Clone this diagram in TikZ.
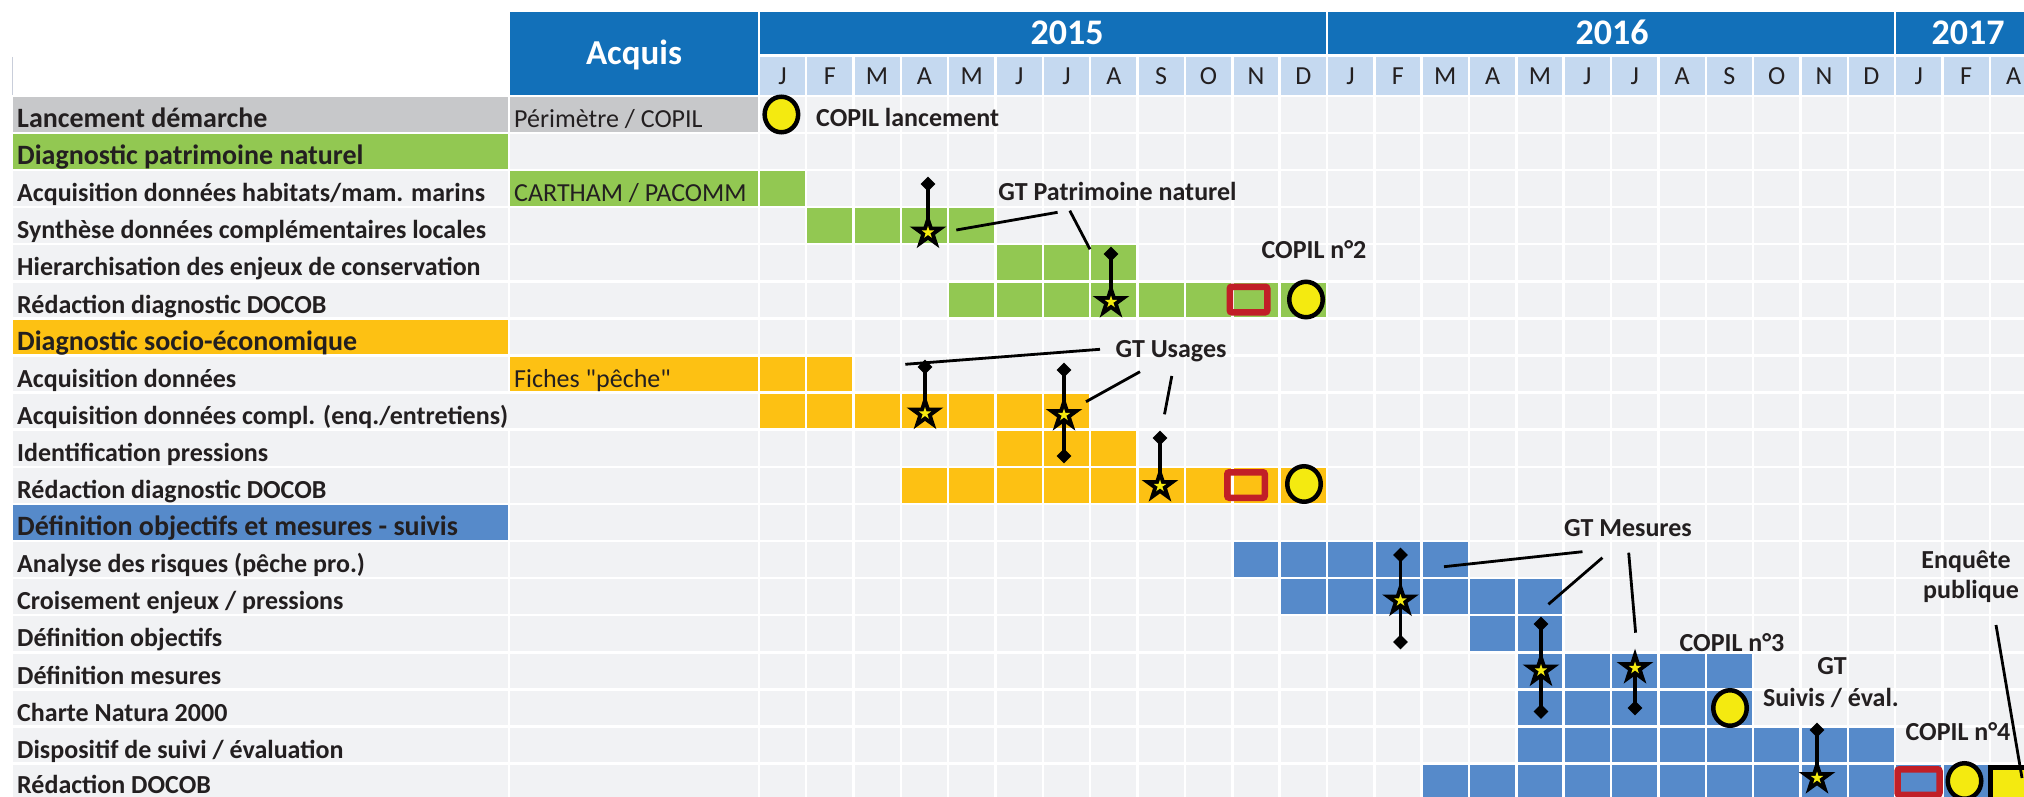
\documentclass[tikz,border=0pt]{standalone}
\usepackage{fontspec}
\setmainfont{Carlito}[Ligatures=TeXOff]
\usetikzlibrary{shapes.geometric}
\definecolor{hdrblue}{HTML}{1270B9}
\definecolor{monthblue}{HTML}{C5D9F0}
\definecolor{cellgrey}{HTML}{F1F2F4}
\definecolor{headgrey}{HTML}{C7C8CA}
\definecolor{greenc}{HTML}{92C852}
\definecolor{orangec}{HTML}{FDC113}
\definecolor{bluec}{HTML}{568ACA}
\definecolor{yellowc}{HTML}{F4EA10}
\definecolor{redc}{HTML}{C11F27}
\definecolor{ink}{HTML}{231F20}
\definecolor{edgeline}{HTML}{C9CEDA}
\newcommand\ganttbar[4]{\foreach \k in {#2,...,#3}{\fill[#4] ({760+47.35*\k},{97+37.1*#1}) rectangle ++(44.85,34.6);}}
\tikzset{
 lbl/.style={anchor=base west, inner sep=0pt, text=ink, font=\bfseries\fontsize{26}{30}\selectfont},
 cat/.style={lbl, font=\bfseries\fontsize{28}{32}\selectfont},
 acq/.style={anchor=base west, inner sep=0pt, text=ink, font=\fontsize{26}{30}\selectfont},
 mon/.style={anchor=base, inner sep=0pt, text=ink, font=\fontsize{26}{30}\selectfont},
 yr/.style={anchor=base, inner sep=0pt, text=white, font=\bfseries\fontsize{36}{40}\selectfont},
 ann/.style={anchor=base, inner sep=0pt, text=ink, font=\bfseries\fontsize{26}{30}\selectfont},
 gtstar/.style={star, star points=5, star point ratio=2.618, fill=black, inner sep=0pt, minimum size=38.6},
 ystar/.style={star, star points=5, star point ratio=2.618, fill=yellowc, inner sep=0pt, minimum size=13},
 dmd/.style={diamond, fill=black, inner sep=0pt, minimum width=15, minimum height=15},
 stem/.style={draw=black, line width=3.3},
 leader/.style={draw=black, line width=2.8},
 copil/.style={ellipse, draw=black, fill=yellowc, line width=4.5, inner sep=0pt, minimum width=33.5, minimum height=35.5},
 redbox/.style={rectangle, draw=redc, line width=6.5, rounded corners=2, inner sep=0pt, minimum width=37.5, minimum height=25.5},
}
\begin{document}
\begin{tikzpicture}[x=1pt,y=-1pt]
\useasboundingbox (0,0) rectangle (2024,797);
\clip (0,0) rectangle (2024,797);
\fill[white] (0,0) rectangle (2024,797);
% header
\draw[edgeline, line width=1] (12,57) -- (12,95);
\fill[hdrblue] (510,12) rectangle (757.5,95);
\node[yr, font=\bfseries\fontsize{35}{40}\selectfont] (hacq) at (634,65) {Acquis};
\fill[hdrblue] (760,12) rectangle ({760+12*47.35-2.5},54.5);
\fill[hdrblue] ({760+12*47.35},12) rectangle ({760+24*47.35-2.5},54.5);
\fill[hdrblue] ({760+24*47.35},12) rectangle (2030,54.5);
\node[yr] (y15) at (1067,45) {2015};
\node[yr] (y16) at (1612,45) {2016};
\node[yr] (y17) at (1968,45) {2017};
\foreach \m [count=\k from 0] in {J,F,M,A,M,J,J,A,S,O,N,D,J,F,M,A,M,J,J,A,S,O,N,D,J,F,A}{
  \fill[monthblue] ({760+47.35*\k},57) rectangle ++(44.85,38);
  \node[mon] (m\k) at ({760+47.35*\k+22.4},85) {\m};
}
% grid background
\foreach \r in {0,...,18}{
  \foreach \k in {0,...,26}{\fill[cellgrey] ({760+47.35*\k},{97+37.1*\r}) rectangle ++(44.85,34.6);}
  \fill[cellgrey] (13,{97+37.1*\r}) rectangle (507.5,{97+37.1*\r+34.6});
  \fill[cellgrey] (510,{97+37.1*\r}) rectangle (757.5,{97+37.1*\r+34.6});
}
\fill[cellgrey] (13,{97+37.1*8}) rectangle (757.5,{97+37.1*8+34.6});
% category cells
\fill[headgrey] (13,97) rectangle (507.5,131.6);
\fill[headgrey] (510,97) rectangle (757.5,131.6);
\fill[greenc] (13,{97+37.1}) rectangle (507.5,{97+37.1+34.6});
\fill[greenc] (510,{97+37.1*2}) rectangle (757.5,{97+37.1*2+34.6});
\fill[orangec] (13,{97+37.1*6}) rectangle (507.5,{97+37.1*6+34.6});
\fill[orangec] (510,{97+37.1*7}) rectangle (757.5,{97+37.1*7+34.6});
\fill[bluec] (13,{97+37.1*11}) rectangle (507.5,{97+37.1*11+34.6});
% bars
\ganttbar{2}{0}{0}{greenc}
\ganttbar{3}{1}{4}{greenc}
\ganttbar{4}{5}{7}{greenc}
\ganttbar{5}{4}{11}{greenc}
\ganttbar{7}{0}{1}{orangec}
\ganttbar{8}{0}{6}{orangec}
\ganttbar{9}{5}{7}{orangec}
\ganttbar{10}{3}{11}{orangec}
\ganttbar{12}{10}{14}{bluec}
\ganttbar{13}{11}{16}{bluec}
\ganttbar{14}{15}{16}{bluec}
\ganttbar{15}{16}{20}{bluec}
\ganttbar{16}{16}{20}{bluec}
\ganttbar{17}{16}{23}{bluec}
\ganttbar{18}{14}{25}{bluec}
% row labels
\node[cat] (l0) at (17,{97+37.1*0+30.5}) {Lancement démarche};
\node[cat] (l1) at (17,{97+37.1*1+30.5}) {Diagnostic patrimoine naturel};
\node[lbl] (l2) at (17,{97+37.1*2+30.5}) {Acquisition données habitats/mam. marins};
\node[lbl] (l3) at (17,{97+37.1*3+30.5}) {Synthèse données complémentaires locales};
\node[lbl] (l4) at (17,{97+37.1*4+30.5}) {Hierarchisation des enjeux de conservation};
\node[lbl] (l5) at (17,{97+37.1*5+30.5}) {Rédaction diagnostic DOCOB};
\node[cat] (l6) at (17,{97+37.1*6+30.5}) {Diagnostic socio-économique};
\node[lbl] (l7) at (17,{97+37.1*7+30.5}) {Acquisition données};
\node[lbl] (l8) at (17,{97+37.1*8+30.5}) {Acquisition données compl. (enq./entretiens)};
\node[lbl] (l9) at (17,{97+37.1*9+30.5}) {Identification pressions};
\node[lbl] (l10) at (17,{97+37.1*10+30.5}) {Rédaction diagnostic DOCOB};
\node[cat] (l11) at (17,{97+37.1*11+30.5}) {Définition objectifs et mesures - suivis};
\node[lbl] (l12) at (17,{97+37.1*12+30.5}) {Analyse des risques (pêche pro.)};
\node[lbl] (l13) at (17,{97+37.1*13+30.5}) {Croisement enjeux / pressions};
\node[lbl] (l14) at (17,{97+37.1*14+30.5}) {Définition objectifs};
\node[lbl] (l15) at (17,{97+37.1*15+30.5}) {Définition mesures};
\node[lbl] (l16) at (17,{97+37.1*16+30.5}) {Charte Natura 2000};
\node[lbl] (l17) at (17,{97+37.1*17+30.5}) {Dispositif de suivi / évaluation};
\node[lbl] (l18) at (17,{97+37.1*18+28.5}) {Rédaction DOCOB};
\node[acq] (a0) at (514,{97+30.5}) {Périmètre / COPIL};
\node[acq] (a2) at (514,{97+37.1*2+30.5}) {CARTHAM / PACOMM};
\node[acq] (a7) at (514,{97+37.1*7+30.5}) {Fiches "pêche"};
% COPIL markers
\node[copil] (c0) at (781.4,114.5) {};
\node[ann, anchor=base west] (tc0) at (816,126.7) {COPIL lancement};
\node[redbox, minimum width=37.5] (rb5) at (1248.5,299.5) {};
\node[copil] (c5) at (1306,299.5) {};
\node[redbox, minimum width=37.5] (rb10) at (1246,485) {};
\node[copil] (c10) at (1304,484) {};
\node[copil] (c16) at (1730,708) {};
\node[redbox, minimum width=42] (rb18) at (1918.5,782) {};
\node[copil] (c18) at (1964.5,781) {};
\draw[black, fill=yellowc, line width=5] (1990.5,767.5) rectangle (2040,815);
\node[ann] (tc2) at (1314,258) {COPIL n°2};
\node[ann] (tc3) at (1732,651) {COPIL n°3};
\node[ann] (tc4) at (1958,740.5) {COPIL n°4};
% GT markers
\node[dmd] (d1) at (928,184) {};
\node[gtstar] (s1) at (928,232.5) {};
\draw[stem] (d1.center) -- (s1.center);
\node[dmd] (d2) at (1111,254) {};
\node[gtstar] (s2) at (1111,302) {};
\draw[stem] (d2.center) -- (s2.center);
\node[dmd] (d3) at (925,367) {};
\node[gtstar] (s3) at (925,413.5) {};
\draw[stem] (d3.center) -- (s3.center);
\node[dmd] (d4) at (1064,370) {};
\node[dmd] (d4b) at (1064,456) {};
\node[gtstar] (s4) at (1064,415) {};
\draw[stem] (d4.center) -- (d4b.center);
\node[dmd] (d5) at (1160,438) {};
\node[gtstar] (s5) at (1160,486) {};
\draw[stem] (d5.center) -- (s5.center);
\node[dmd] (d6) at (1400.5,555) {};
\node[dmd] (d6b) at (1400.5,642) {};
\node[gtstar] (s6) at (1400.5,600.5) {};
\draw[stem] (d6.center) -- (d6b.center);
\node[dmd] (d7) at (1541,624) {};
\node[dmd] (d7b) at (1541,711.5) {};
\node[gtstar] (s7) at (1541,670.5) {};
\draw[stem] (d7.center) -- (d7b.center);
\node[dmd] (d8b) at (1635,708) {};
\node[gtstar] (s8) at (1635,668) {};
\draw[stem] (s8.center) -- (d8b.center);
\node[dmd] (d9) at (1817,730) {};
\node[gtstar] (s9) at (1817,778) {};
\draw[stem] (d9.center) -- (s9.center);
\foreach \i in {1,...,9}{\node[ystar] (ys\i) at (s\i.center) {};}
% GT labels and leaders
\node[ann] (gtp) at (1117.5,200) {GT Patrimoine naturel};
\node[ann] (gtu) at (1171,357.5) {GT Usages};
\node[ann] (gtm) at (1628,536.5) {GT Mesures};
\node[ann] (gts1) at (1832,674) {GT};
\node[ann] (gts2) at (1831,706) {Suivis / éval.};
\node[ann] (enq1) at (1966,568.3) {Enquête};
\node[ann] (enq2) at (1971,598.3) {publique};
\coordinate (p1a) at (1057.6,212.3); \coordinate (p1b) at (956.3,230);
\coordinate (p2a) at (1069.8,210.7); \coordinate (p2b) at (1090,249.3);
\draw[leader] (p1a) -- (p1b);
\draw[leader] (p2a) -- (p2b);
\coordinate (u1a) at (1100,349.3); \coordinate (u1b) at (905.3,364.3);
\coordinate (u2a) at (1140,371.7); \coordinate (u2b) at (1086,401.7);
\coordinate (u3a) at (1171.8,376); \coordinate (u3b) at (1164.5,414.3);
\draw[leader] (u1a) -- (u1b);
\draw[leader] (u2a) -- (u2b);
\draw[leader] (u3a) -- (u3b);
\coordinate (m1a) at (1582.5,551.7); \coordinate (m1b) at (1444,566.7);
\coordinate (m2a) at (1602.4,557.7); \coordinate (m2b) at (1548.4,604.3);
\coordinate (m3a) at (1628.7,552.7); \coordinate (m3b) at (1635.6,632.7);
\draw[leader] (m1a) -- (m1b);
\draw[leader] (m2a) -- (m2b);
\draw[leader] (m3a) -- (m3b);
\coordinate (e1a) at (1996,625); \coordinate (e1b) at (2022,778);
\draw[leader] (e1a) -- (e1b);
\end{tikzpicture}
\end{document}
